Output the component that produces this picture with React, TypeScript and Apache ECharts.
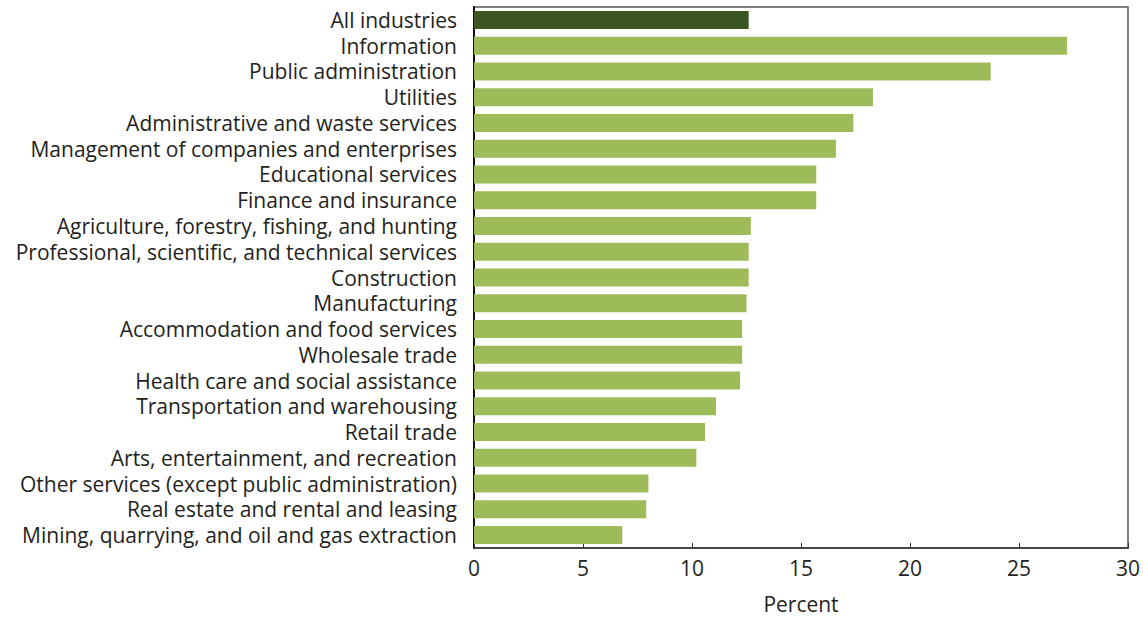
import React, { useEffect, useRef } from "react";
import * as echarts from "echarts";

const categories = [
  "All industries",
  "Information",
  "Public administration",
  "Utilities",
  "Administrative and waste services",
  "Management of companies and enterprises",
  "Educational services",
  "Finance and insurance",
  "Agriculture, forestry, fishing, and hunting",
  "Professional, scientific, and technical services",
  "Construction",
  "Manufacturing",
  "Accommodation and food services",
  "Wholesale trade",
  "Health care and social assistance",
  "Transportation and warehousing",
  "Retail trade",
  "Arts, entertainment, and recreation",
  "Other services (except public administration)",
  "Real estate and rental and leasing",
  "Mining, quarrying, and oil and gas extraction",
];

const values = [
  12.6, 27.2, 23.7, 18.3, 17.4, 16.6, 15.7, 15.7, 12.7, 12.6, 12.6, 12.5, 12.3,
  12.3, 12.2, 11.1, 10.6, 10.2, 8.0, 7.9, 6.8,
];

const xTicks = [0, 5, 10, 15, 20, 25, 30];

const DARK = "#3a5520";
const LIGHT = "#9dbb59";
const TEXT = "#231f20";
const FONT = "'Open Sans', sans-serif";

export default function App() {
  const ref = useRef<HTMLDivElement>(null);
  useEffect(() => {
    if (!ref.current) return;
    const chart = echarts.init(ref.current, null, { renderer: "svg" });
    chart.setOption({
      animation: false,
      backgroundColor: "#ffffff",
      grid: {
        left: 474,
        right: 9,
        top: 7,
        bottom: 58,
        show: true,
        borderColor: "#555",
        borderWidth: 1.5,
      },
      xAxis: {
        type: "value",
        min: xTicks[0],
        max: xTicks[xTicks.length - 1],
        interval: 5,
        name: "Percent",
        nameLocation: "middle",
        nameGap: 45,
        nameTextStyle: { fontFamily: FONT, fontSize: 21, color: TEXT },
        axisLine: { show: true, lineStyle: { color: "#333", width: 1.5 } },
        axisTick: { show: true, inside: true, length: 5, lineStyle: { color: "#333" } },
        axisLabel: { fontFamily: FONT, fontSize: 21, color: TEXT, margin: 9 },
        splitLine: { show: false },
      },
      yAxis: {
        type: "category",
        data: categories,
        inverse: true,
        axisLine: { show: true, lineStyle: { color: "#111", width: 2 } },
        axisTick: { show: false },
        axisLabel: {
          interval: 0,
          fontFamily: FONT,
          fontSize: 21,
          lineHeight: 22,
          color: TEXT,
          margin: 17,
        },
      },
      series: [
        {
          type: "bar",
          barWidth: 18,
          data: values.map((v, i) => ({
            value: v,
            itemStyle: { color: i === 0 ? DARK : LIGHT },
          })),
        },
      ],
    });
    return () => chart.dispose();
  }, []);
  return (
    <div
      ref={ref}
      style={{ position: "fixed", left: 0, top: 0, width: 1143, height: 619 }}
    />
  );
}
